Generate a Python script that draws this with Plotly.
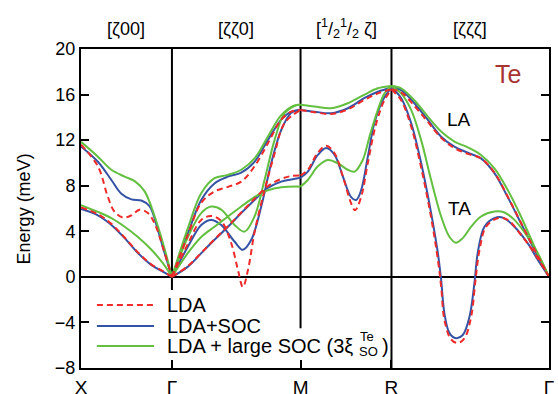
import plotly.graph_objects as go

# ---------------- axis / label data ----------------
K_LABELS = ["X", "Γ", "M", "R", "Γ"]
K_POS = [0.0, 0.5, 1.207, 1.707, 2.573]
DIR_LABELS = ["[ζ00]", "[ζζ0]", "[<sup>1</sup>/<sub>2</sub><sup>1</sup>/<sub>2</sub> ζ]", "[ζζζ]"]
Y_TICKS = [-8, -4, 0, 4, 8, 12, 16, 20]
SERIES_NAMES = ["LDA", "LDA+SOC", "LDA + large SOC (3ξ"]

# ---------------- dispersion data (q, energy meV) ----------------
# X - Gamma
LDA_XG_LA = [(0, 11.6), (0.093, 9.7), (0.148, 7.0), (0.185, 5.7), (0.231, 5.2), (0.277, 5.4),
             (0.322, 5.9), (0.368, 5.6), (0.41, 4.5), (0.45, 2.6), (0.5, 0)]
SOC_XG_LA = [(0, 11.45), (0.093, 10.1), (0.167, 8.5), (0.222, 7.3), (0.277, 6.8), (0.332, 6.7),
             (0.377, 6.2), (0.423, 4.1), (0.45, 2.6), (0.5, 0)]
BIG_XG_LA = [(0, 11.85), (0.093, 10.55), (0.167, 9.4), (0.24, 8.8), (0.295, 8.4), (0.35, 7.5),
             (0.405, 5.3), (0.45, 3.0), (0.5, 0)]
LDA_XG_TA = [(0, 6.1), (0.093, 5.5), (0.167, 4.65), (0.24, 3.45), (0.313, 2.15), (0.386, 1.1),
             (0.45, 0.5), (0.5, 0)]
SOC_XG_TA = [(0, 5.95), (0.093, 5.4), (0.167, 4.56), (0.24, 3.4), (0.313, 2.1), (0.386, 1.05),
             (0.45, 0.45), (0.5, 0)]
BIG_XG_TA = [(0, 6.3), (0.093, 5.7), (0.167, 5.15), (0.24, 4.4), (0.313, 3.5), (0.386, 2.4),
             (0.45, 1.2), (0.5, 0)]

# Gamma - M
LDA_GM_LA = [(0.5, 0), (0.588, 3.7), (0.661, 6.5), (0.734, 7.5), (0.808, 7.9), (0.881, 8.36),
             (0.954, 9.7), (1.027, 11.7), (1.101, 13.8), (1.156, 14.5), (1.207, 14.65)]
SOC_GM_LA = [(0.5, 0), (0.588, 3.83), (0.661, 6.75), (0.734, 8.2), (0.808, 8.8), (0.881, 9.15),
             (0.954, 10.1), (1.027, 12.0), (1.101, 13.8), (1.156, 14.5), (1.207, 14.65)]
BIG_GM_LA = [(0.5, 0), (0.588, 4.3), (0.661, 7.34), (0.734, 8.66), (0.808, 8.95), (0.881, 9.4),
             (0.954, 10.4), (1.027, 12.3), (1.101, 14.2), (1.174, 15.05), (1.207, 15.1)]
LDA_GM_TA1 = [(0.5, 0), (0.588, 2.9), (0.661, 5.0), (0.716, 5.35), (0.771, 4.9), (0.826, 2.95),
              (0.863, 0.6), (0.89, -0.9), (0.918, 0.6), (0.954, 3.9), (1.009, 7.6), (1.064, 10.8),
              (1.119, 13.5), (1.207, 14.65)]
SOC_GM_TA1 = [(0.5, 0), (0.588, 2.66), (0.661, 4.56), (0.716, 5.0), (0.771, 4.56), (0.844, 3.1),
              (0.89, 2.37), (0.936, 3.25), (0.991, 6.17), (1.046, 10.0), (1.101, 12.9),
              (1.156, 14.4), (1.207, 14.65)]
BIG_GM_TA1 = [(0.5, 0), (0.588, 3.5), (0.661, 5.6), (0.716, 6.17), (0.771, 5.9), (0.844, 4.56),
              (0.899, 3.97), (0.954, 5.3), (1.009, 8.5), (1.064, 12.0), (1.119, 14.36),
              (1.174, 15.0), (1.207, 15.1)]
LDA_GM_TA2 = [(0.5, 0), (0.588, 0.95), (0.661, 2.1), (0.734, 3.3), (0.808, 4.45), (0.881, 5.65),
              (0.954, 6.85), (1.027, 7.95), (1.101, 8.6), (1.156, 8.85), (1.207, 8.9)]
SOC_GM_TA2 = [(0.5, 0), (0.588, 0.9), (0.661, 2.08), (0.734, 3.25), (0.808, 4.4), (0.881, 5.6),
              (0.954, 6.75), (1.027, 7.8), (1.101, 8.36), (1.156, 8.55), (1.207, 8.7)]
BIG_GM_TA2 = [(0.5, 0), (0.588, 2.1), (0.661, 3.5), (0.734, 4.4), (0.808, 5.3), (0.881, 6.17),
              (0.954, 7.0), (1.027, 7.6), (1.101, 7.87), (1.207, 7.92)]

# M - R
LDA_MR_UP = [(1.207, 14.65), (1.284, 14.45), (1.375, 14.3), (1.467, 14.7), (1.559, 15.55),
             (1.632, 16.1), (1.707, 16.45)]
SOC_MR_UP = [(1.207, 14.65), (1.284, 14.5), (1.375, 14.36), (1.467, 14.8), (1.559, 15.7),
             (1.632, 16.25), (1.707, 16.6)]
BIG_MR_UP = [(1.207, 15.1), (1.284, 14.95), (1.375, 14.8), (1.467, 15.24), (1.559, 16.0),
             (1.632, 16.55), (1.707, 16.75)]
LDA_MR_LO = [(1.207, 8.9), (1.247, 9.4), (1.302, 10.9), (1.348, 11.5), (1.394, 10.85),
             (1.44, 8.8), (1.485, 6.46), (1.507, 5.85), (1.54, 7.0), (1.577, 10.0),
             (1.622, 13.4), (1.668, 15.5), (1.707, 16.45)]
SOC_MR_LO = [(1.207, 8.7), (1.247, 9.24), (1.302, 10.7), (1.348, 11.3), (1.394, 10.7),
             (1.44, 8.8), (1.485, 7.0), (1.513, 6.75), (1.54, 7.6), (1.577, 10.55),
             (1.613, 13.5), (1.659, 15.5), (1.707, 16.6)]
BIG_MR_LO = [(1.207, 7.92), (1.247, 8.5), (1.302, 9.7), (1.357, 10.26), (1.412, 9.97),
             (1.467, 9.4), (1.504, 9.24), (1.549, 10.26), (1.586, 12.3), (1.632, 14.65),
             (1.668, 16.1), (1.707, 16.75)]

# R - Gamma
LDA_RG_LA = [(1.707, 16.45), (1.76, 16.2), (1.833, 15.0), (1.907, 13.6), (1.98, 12.2),
             (2.053, 11.3), (2.126, 10.8), (2.199, 10.4), (2.273, 9.15), (2.346, 7.05),
             (2.419, 4.75), (2.493, 2.4), (2.573, 0)]
SOC_RG_LA = [(1.707, 16.6), (1.76, 16.4), (1.833, 15.24), (1.907, 13.77), (1.98, 12.3),
             (2.053, 11.43), (2.126, 10.9), (2.199, 10.4), (2.273, 9.1), (2.346, 7.0),
             (2.419, 4.7), (2.493, 2.37), (2.573, 0)]
BIG_RG_LA = [(1.707, 16.75), (1.76, 16.55), (1.833, 15.5), (1.907, 14.06), (1.98, 12.75),
             (2.053, 11.87), (2.126, 11.37), (2.199, 10.7), (2.273, 9.53), (2.346, 7.63),
             (2.419, 5.3), (2.493, 2.66), (2.573, 0)]
LDA_RG_TA = [(1.707, 16.45), (1.76, 15.5), (1.815, 13.2), (1.87, 9.6), (1.925, 5.2),
             (1.962, 1.5), (1.98, -0.85), (1.998, -3.77), (2.035, -5.5), (2.071, -5.8),
             (2.108, -5.4), (2.145, -3.5), (2.169, -0.26), (2.191, 2.37), (2.227, 4.4),
             (2.291, 5.15), (2.346, 5.0), (2.419, 3.68), (2.493, 2.08), (2.573, 0)]
SOC_RG_TA = [(1.707, 16.6), (1.76, 15.7), (1.815, 13.5), (1.87, 10.0), (1.925, 5.6),
             (1.962, 2.08), (1.98, -0.26), (1.998, -3.2), (2.026, -4.94), (2.062, -5.38),
             (2.099, -5.1), (2.136, -3.5), (2.163, -0.55), (2.181, 2.08), (2.218, 4.4),
             (2.273, 5.15), (2.319, 5.2), (2.383, 4.4), (2.456, 2.95), (2.511, 1.5), (2.573, 0)]
BIG_RG_TA = [(1.707, 16.75), (1.76, 16.1), (1.815, 14.65), (1.87, 12.0), (1.925, 8.5),
             (1.98, 5.3), (2.026, 3.5), (2.062, 3.0), (2.099, 3.4), (2.145, 4.4), (2.199, 5.3),
             (2.273, 5.73), (2.328, 5.65), (2.383, 5.0), (2.456, 3.5), (2.511, 2.08), (2.573, 0)]

LDA_BRANCHES = [LDA_XG_LA, LDA_XG_TA, LDA_GM_LA, LDA_GM_TA1, LDA_GM_TA2,
                LDA_MR_UP, LDA_MR_LO, LDA_RG_LA, LDA_RG_TA]
SOC_BRANCHES = [SOC_XG_LA, SOC_XG_TA, SOC_GM_LA, SOC_GM_TA1, SOC_GM_TA2,
                SOC_MR_UP, SOC_MR_LO, SOC_RG_LA, SOC_RG_TA]
BIG_BRANCHES = [BIG_XG_LA, BIG_XG_TA, BIG_GM_LA, BIG_GM_TA1, BIG_GM_TA2,
                BIG_MR_UP, BIG_MR_LO, BIG_RG_LA, BIG_RG_TA]

RED = "#ee2a2a"
BLUE = "#3553a5"
GREEN = "#63bf3f"
FONT = "Liberation Sans, Arial, sans-serif"

fig = go.Figure()

def add_series(branches, color, dash):
    for br in branches:
        fig.add_trace(go.Scatter(
            x=[p[0] for p in br], y=[p[1] for p in br], mode="lines",
            line=dict(color=color, width=2, dash=dash, shape="spline", smoothing=1.0),
            showlegend=False, hoverinfo="skip"))

add_series(SOC_BRANCHES, BLUE, "solid")
add_series(BIG_BRANCHES, GREEN, "solid")
add_series(LDA_BRANCHES, RED, "6px,4px")

# vertical high-symmetry lines (partly hidden behind legend texts as in original)
vline_bottom = [-1.15, -4.5, -8]
for xv, yb in zip(K_POS[1:4], vline_bottom):
    fig.add_shape(type="line", xref="x", yref="y", x0=xv, x1=xv, y0=yb, y1=20,
                  line=dict(color="black", width=2), layer="below")

# direction labels on top
for i, lab in enumerate(DIR_LABELS):
    xc = (K_POS[i] + K_POS[i + 1]) / 2
    fig.add_annotation(x=xc, xref="x", y=1.063, yref="paper", text=lab, showarrow=False,
                       xanchor="center", yanchor="middle",
                       font=dict(size=18, color="black", family=FONT))

# y axis title
fig.add_annotation(x=-0.122, y=0.5, xref="paper", yref="paper", text="Energy (meV)",
                   textangle=-90, showarrow=False, xanchor="center", yanchor="middle",
                   font=dict(size=18, color="black", family=FONT))

# text labels
fig.add_annotation(x=2.346, y=17.8, text="Te", showarrow=False,
                   font=dict(size=25, color="#a93333", family=FONT))
fig.add_annotation(x=2.077, y=13.8, text="LA", showarrow=False,
                   font=dict(size=19, color="black", family=FONT))
fig.add_annotation(x=2.082, y=5.96, text="TA", showarrow=False,
                   font=dict(size=19, color="black", family=FONT))

# legend (drawn manually to reproduce the original layout)
leg_colors = [RED, BLUE, GREEN]
leg_dash = ["6px,4px", "solid", "solid"]
leg_y = [0.1975, 0.1317, 0.069]
for name, c, d, yy in zip(SERIES_NAMES, leg_colors, leg_dash, leg_y):
    fig.add_shape(type="line", xref="paper", yref="paper", x0=0.034, x1=0.156, y0=yy, y1=yy,
                  line=dict(color=c, width=2, dash=d))
    fig.add_annotation(x=0.179, y=yy, xref="paper", yref="paper", text=name, showarrow=False,
                       xanchor="left", yanchor="middle",
                       font=dict(size=20, color="black", family=FONT))
fig.add_annotation(x=0.594, y=0.098, xref="paper", yref="paper", text="Te", showarrow=False,
                   xanchor="left", yanchor="middle", borderpad=0,
                   font=dict(size=13, color="black", family=FONT))
fig.add_annotation(x=0.592, y=0.052, xref="paper", yref="paper", text="SO", showarrow=False,
                   xanchor="left", yanchor="middle", borderpad=0,
                   font=dict(size=13, color="black", family=FONT))
fig.add_annotation(x=0.640, y=0.069, xref="paper", yref="paper", text=")", showarrow=False,
                   xanchor="left", yanchor="middle", borderpad=0,
                   font=dict(size=20, color="black", family=FONT))

fig.update_layout(
    width=558, height=394,
    margin=dict(l=81, r=9, t=49, b=26),
    paper_bgcolor="white", plot_bgcolor="white",
    font=dict(family=FONT, color="black"),
    xaxis=dict(range=[0, 2.573], tickvals=K_POS, ticktext=K_LABELS, ticks="inside",
               ticklen=8, tickwidth=2, tickcolor="black", showline=True, linecolor="black",
               linewidth=2, mirror=True, showgrid=False, zeroline=False, automargin=False,
               ticklabelstandoff=1, tickfont=dict(size=19, family=FONT)),
    yaxis=dict(range=[-8, 20], tickvals=Y_TICKS, ticks="inside", ticklen=8, tickwidth=2,
               tickcolor="black", showline=True, linecolor="black", linewidth=2,
               mirror="ticks", showgrid=False, zeroline=True, zerolinecolor="black",
               zerolinewidth=2, automargin=False, tickfont=dict(size=18, family=FONT)),
)

fig.write_html("out.html")
